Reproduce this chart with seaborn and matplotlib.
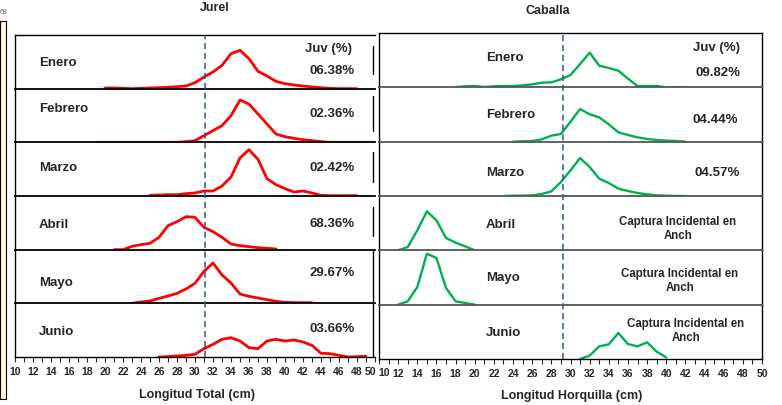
import numpy as np
import pandas as pd
import matplotlib
matplotlib.use('Agg')
import matplotlib.pyplot as plt
import seaborn as sns
from matplotlib.ticker import MultipleLocator, FuncFormatter
from matplotlib.patches import Rectangle
from matplotlib.lines import Line2D

# meses
meses = ['Enero', 'Febrero', 'Marzo', 'Abril', 'Mayo', 'Junio']

# Jurel - frecuencia por longitud total (cm)
jurel_enero_x = [20, 21, 22, 23, 24, 25, 26, 27, 28, 29, 30, 31, 32, 33, 34, 35, 36, 37, 38, 39, 40, 41, 42, 43, 44, 45, 46, 47, 48]
jurel_enero_y = [0.2, 0.2, 0.1, 0.0, 0.1, 0.2, 0.3, 0.4, 0.6, 0.8, 1.8, 3.5, 5.0, 7.0, 10.5, 11.5, 9.0, 5.2, 3.8, 2.2, 1.5, 1.1, 0.8, 0.5, 0.3, 0.1, 0.0, 0.0, 0.0]
jurel_febrero_x = [19, 20, 21, 22, 23, 24, 25, 26, 27, 28, 29, 30, 31, 32, 33, 34, 35, 36, 37, 38, 39, 40, 41, 42, 43, 44, 45, 46, 47, 48, 49, 50]
jurel_febrero_y = [0, 0, 0, 0, 0, 0, 0, 0, 0, 0, 0.2, 0.5, 2.0, 3.5, 5.0, 8.0, 12.7, 11.5, 8.5, 5.5, 2.5, 1.7, 1.2, 0.8, 0.5, 0.2, 0, 0, 0, 0, 0, 0]
jurel_marzo_x = [25, 26, 27, 28, 29, 30, 31, 32, 33, 34, 35, 36, 37, 38, 39, 40, 41, 42, 43, 44, 45, 46, 47, 48]
jurel_marzo_y = [0.2, 0.3, 0.4, 0.4, 0.7, 0.9, 1.5, 1.5, 3.0, 5.7, 11.4, 13.9, 11.0, 5.2, 3.4, 2.2, 1.2, 1.5, 0.9, 0.2, 0.1, 0.1, 0.1, 0.1]
jurel_abril_x = [21, 22, 23, 24, 25, 26, 27, 28, 29, 30, 31, 32, 33, 34, 35, 36, 37, 38, 39]
jurel_abril_y = [0, 0, 1.0, 1.5, 1.9, 3.7, 7.2, 8.4, 9.9, 9.7, 6.7, 5.4, 3.7, 1.7, 1.2, 0.9, 0.6, 0.4, 0.2]
jurel_mayo_x = [23, 24, 25, 26, 27, 28, 29, 30, 31, 32, 33, 34, 35, 36, 37, 38, 39, 40, 41, 42, 43]
jurel_mayo_y = [0, 0.4, 0.7, 1.5, 2.2, 3.0, 4.3, 6.0, 9.6, 12.1, 8.5, 6.1, 2.8, 2.1, 1.6, 1.1, 0.6, 0.3, 0.2, 0.2, 0.2]
jurel_junio_x = [26, 27, 28, 29, 30, 31, 32, 33, 34, 35, 36, 37, 38, 39, 40, 41, 42, 43, 44, 45, 46, 47, 48, 49]
jurel_junio_y = [0, 0.1, 0.3, 0.5, 0.8, 2.5, 3.8, 5.3, 5.8, 4.8, 2.8, 2.5, 4.8, 5.3, 4.8, 5.1, 4.5, 3.5, 1.1, 1.0, 0.5, 0.0, 0.1, 0.2]
jurel_juv = ['06.38%', '02.36%', '02.42%', '68.36%', '29.67%', '03.66%']

# Caballa - frecuencia por longitud horquilla (cm)
caballa_enero_x = [18, 19, 20, 21, 22, 23, 24, 25, 26, 27, 28, 29, 30, 31, 32, 33, 34, 35, 36, 37, 38, 39, 40, 41, 42]
caballa_enero_y = [0.1, 0.3, 0.4, 0.1, 0.3, 0.4, 0.4, 0.6, 0.9, 1.4, 1.5, 2.4, 3.7, 7.0, 10.4, 6.5, 5.8, 5.0, 2.6, 0.4, 0.4, 0.4, 0.0, 0.0, 0.0]
caballa_febrero_x = [24, 25, 26, 27, 28, 29, 30, 31, 32, 33, 34, 35, 36, 37, 38, 39, 40, 41, 42]
caballa_febrero_y = [0, 0.1, 0.2, 0.7, 1.8, 2.3, 6.0, 9.8, 8.2, 7.3, 5.2, 2.8, 2.0, 1.3, 0.8, 0.5, 0.3, 0.2, 0.0]
caballa_marzo_x = [23, 24, 25, 26, 27, 28, 29, 30, 31, 32, 33, 34, 35, 36, 37, 38, 39, 40, 41, 42]
caballa_marzo_y = [0, 0.1, 0.1, 0.2, 0.6, 1.4, 4.2, 7.7, 11.4, 8.7, 5.2, 3.9, 2.2, 1.5, 0.9, 0.5, 0.2, 0.1, 0.0, 0.0]
caballa_abril_x = [12, 13, 14, 15, 16, 17, 18, 19, 20]
caballa_abril_y = [0, 1.0, 6.0, 11.7, 9.0, 3.7, 2.3, 1.2, 0]
caballa_mayo_x = [12, 13, 14, 15, 16, 17, 18, 19, 20]
caballa_mayo_y = [0, 1.0, 5.3, 15.3, 14.0, 5.0, 1.0, 0.5, 0]
caballa_junio_x = [31, 32, 33, 34, 35, 36, 37, 38, 39, 40]
caballa_junio_y = [0, 1.0, 3.8, 4.4, 7.8, 4.5, 3.8, 5.0, 2.2, 0.5]
caballa_juv = ['09.82%', '04.44%', '04.57%', 'Captura Incidental en\nAnch',
               'Captura Incidental en\nAnch', 'Captura Incidental en\nAnch']

talla_juv_jurel = 31.1
talla_juv_caballa = 29.2


def armar(xs, ys):
    partes = [pd.DataFrame({'mes': m, 'talla': x, 'frec': y}) for m, x, y in zip(meses, xs, ys)]
    return pd.concat(partes, ignore_index=True)


df_jurel = armar([jurel_enero_x, jurel_febrero_x, jurel_marzo_x, jurel_abril_x, jurel_mayo_x, jurel_junio_x],
                 [jurel_enero_y, jurel_febrero_y, jurel_marzo_y, jurel_abril_y, jurel_mayo_y, jurel_junio_y])
df_caballa = armar([caballa_enero_x, caballa_febrero_x, caballa_marzo_x, caballa_abril_x, caballa_mayo_x, caballa_junio_x],
                   [caballa_enero_y, caballa_febrero_y, caballa_marzo_y, caballa_abril_y, caballa_mayo_y, caballa_junio_y])

sns.set_style('white')
plt.rcParams['font.family'] = ['Liberation Sans', 'DejaVu Sans']
plt.rcParams['font.weight'] = 'bold'

W, H = 782, 406
fig = plt.figure(figsize=(W / 100, H / 100), dpi=100)


def fx(x):
    return x / W


def fy(y):
    return 1 - y / H


def panel(df, x0, x1, y_top, y_bot, color, lw, ymax, n_yt, dash_x, sep_color, sin_etiqueta):
    alto = (y_bot - y_top) / 6
    axes = []
    for i, mes in enumerate(meses):
        yt = y_top + i * alto
        ax = fig.add_axes([fx(x0), fy(yt + alto), (x1 - x0) / W, alto / H])
        sub = df[df['mes'] == mes]
        sns.lineplot(data=sub, x='talla', y='frec', ax=ax, color=color, linewidth=lw)
        ax.set_xlim(10, 50)
        ax.set_ylim(0, ymax)
        ax.set_facecolor('none')
        ax.set_xlabel('')
        ax.set_ylabel('')
        ax.set_yticks(np.linspace(0, ymax, n_yt + 1)[1:-1])
        ax.set_yticklabels([])
        ax.tick_params(axis='y', direction='out', length=3, width=0.8, color='black')
        ax.xaxis.set_major_locator(MultipleLocator(2))
        ax.xaxis.set_minor_locator(MultipleLocator(1))
        ax.xaxis.set_major_formatter(FuncFormatter(
            lambda v, p: '' if round(v) == sin_etiqueta else f'{v:.0f}'))
        for s in ax.spines.values():
            s.set_linewidth(1.0)
            s.set_color('black')
        ax.spines['right'].set_visible(False)
        if i > 0:
            ax.spines['top'].set_color(sep_color)
            ax.spines['top'].set_linewidth(1.3)
        if i < 5:
            ax.spines['bottom'].set_visible(False)
            ax.tick_params(axis='x', which='both', bottom=False, labelbottom=False)
        else:
            ax.tick_params(axis='x', which='major', direction='out', length=3.5, width=0.8,
                           bottom=True, labelsize=7.5, pad=3)
            ax.tick_params(axis='x', which='minor', direction='out', length=3.5, width=0.8, bottom=True)
            for t in ax.get_xticklabels():
                t.set_fontweight('bold')
        axes.append(ax)
    over = fig.add_axes([fx(x0), fy(y_bot), (x1 - x0) / W, (y_bot - y_top) / H])
    over.set_xlim(10, 50)
    over.set_ylim(0, 1)
    over.axis('off')
    over.axvline(dash_x, color='#2f5597', lw=1.1, ls=(0, (4, 2.5)))
    return axes


ax_j = panel(df_jurel, 15, 375, 36, 358, '#ff0000', 2.0, 16.1, 5, talla_juv_jurel, 'black', 50)
ax_c = panel(df_caballa, 379, 762, 34, 360, '#00b04f', 1.7, 16.3, 7, talla_juv_caballa, '#555555', 10)
for ax in ax_c:
    ax.spines['right'].set_visible(True)

# "50" y "10" entre paneles, corridos para que no se pisen
fig.text(fx(376), fy(372), '50', fontsize=7.5, fontweight='bold', ha='right', va='center')
fig.text(fx(378), fy(373), '10', fontsize=7.5, fontweight='bold', ha='left', va='center')

# trazos verticales a la derecha del panel Jurel
for y0, y1 in [(47, 75), (97, 132), (153, 183), (208, 237), (251, 358)]:
    fig.add_artist(Line2D([fx(373), fx(373)], [fy(y0), fy(y1)], color='black', lw=1.0))

# franja amarilla a la izquierda
fig.add_artist(Rectangle((0, fy(400)), fx(5.5), fy(22) - fy(400), facecolor='#fdf8d2',
                         edgecolor='black', lw=0.8, transform=fig.transFigure))
fig.text(fx(0), fy(13), '68', fontsize=5, color='#666666', fontweight='normal', va='center')

# titulos
fig.text(fx(215), fy(8), 'Jurel', fontsize=9, fontweight='bold', ha='center', va='center')
fig.text(fx(548), fy(11), 'Caballa', fontsize=9, fontweight='bold', ha='center', va='center')

# etiquetas Jurel
y_mes_j = [63, 109, 168, 225, 283, 332]
y_juv_j = [71, 114, 168, 224, 273, 329]
for m, pct, ym, yp in zip(meses, jurel_juv, y_mes_j, y_juv_j):
    fig.text(fx(39), fy(ym), m, fontsize=9.5, fontweight='bold', ha='left', va='center')
    fig.text(fx(355), fy(yp), pct, fontsize=9.5, fontweight='bold', ha='right', va='center')
fig.text(fx(352), fy(49), 'Juv (%)', fontsize=9.5, fontweight='bold', ha='right', va='center')

# etiquetas Caballa
y_mes_c = [58, 115, 173, 225, 278, 333]
y_juv_c = [73, 120, 173, 229, 281, 331]
x_juv_c = [740, 738, 740, 678, 680, 686]
for i, (m, txt, ym, yp, xp) in enumerate(zip(meses, caballa_juv, y_mes_c, y_juv_c, x_juv_c)):
    fig.text(fx(486), fy(ym), m, fontsize=9.5, fontweight='bold', ha='left', va='center')
    if i < 3:
        fig.text(fx(xp), fy(yp), txt, fontsize=9.5, fontweight='bold', ha='right', va='center')
    else:
        fig.text(fx(xp), fy(yp), txt, fontsize=8.3, fontweight='bold', ha='center', va='center',
                 linespacing=1.15)
fig.text(fx(740), fy(48), 'Juv (%)', fontsize=9.5, fontweight='bold', ha='right', va='center')

# ejes x
fig.text(fx(197), fy(395), 'Longitud Total (cm)', fontsize=9, fontweight='bold', ha='center', va='center')
fig.text(fx(572), fy(396), 'Longitud Horquilla (cm)', fontsize=9, fontweight='bold', ha='center', va='center')

fig.savefig('out.png', dpi=100)
